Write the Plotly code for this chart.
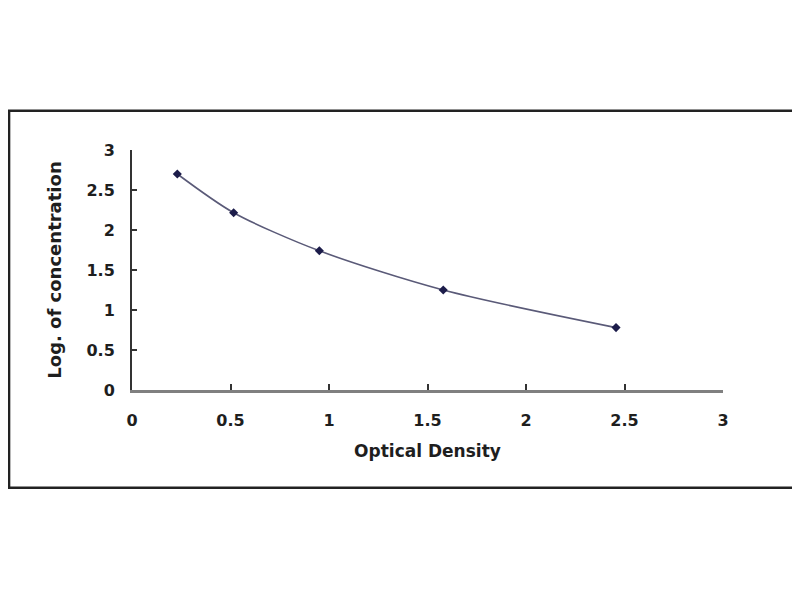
import plotly.graph_objects as go

# standard curve points
optical_density = [0.23, 0.516, 0.951, 1.58, 2.457]
log_concentration = [2.70, 2.216, 1.74, 1.25, 0.78]

x_ticks = [0, 0.5, 1, 1.5, 2, 2.5, 3]
y_ticks = [0, 0.5, 1, 1.5, 2, 2.5, 3]

fig = go.Figure()

fig.add_trace(go.Scatter(
    x=optical_density,
    y=log_concentration,
    mode="lines+markers",
    line=dict(color="#5a5a78", width=1.6, shape="spline", smoothing=0.8),
    marker=dict(color="#1c1c4a", size=7, symbol="diamond"),
    showlegend=False,
))

font_family = "DejaVu Sans, Arial, sans-serif"
text_color = "#1e1e1e"

# page body adds an 8px offset, margins compensate for it
fig.update_layout(
    width=800,
    height=600,
    margin=dict(l=124, r=85, t=142, b=218),
    paper_bgcolor="white",
    plot_bgcolor="white",
    font=dict(family=font_family, color=text_color),
    xaxis=dict(
        range=[0, 3],
        tickvals=x_ticks,
        ticktext=[f"<b>{v:g}</b>" for v in x_ticks],
        tickfont=dict(size=16, family=font_family, color=text_color),
        ticks="inside",
        ticklen=6,
        tickwidth=2,
        tickcolor="#333333",
        ticklabelstandoff=14,
        showline=True,
        linecolor="#808080",
        linewidth=3,
        showgrid=False,
        zeroline=False,
        title=dict(text="<b>Optical Density</b>",
                   font=dict(size=17, family=font_family, color=text_color),
                   standoff=16),
    ),
    yaxis=dict(
        range=[0, 3],
        tickvals=y_ticks,
        ticktext=[f"<b>{v:g}</b>" for v in y_ticks],
        tickfont=dict(size=16, family=font_family, color=text_color),
        ticks="inside",
        ticklen=5,
        tickwidth=2,
        tickcolor="#333333",
        ticklabelstandoff=12,
        showline=True,
        linecolor="#333333",
        linewidth=2,
        showgrid=False,
        zeroline=False,
        title=dict(text="<b>Log. of concentration</b>",
                   font=dict(size=18, family=font_family, color=text_color),
                   standoff=20),
    ),
)

# outer frame around the chart
fig.add_shape(
    type="rect", xref="paper", yref="paper",
    x0=-0.208, x1=1.129, y0=-0.407, y1=1.1637,
    line=dict(color="#222222", width=2.5),
    fillcolor="rgba(0,0,0,0)",
)

fig.write_html("out.html")
